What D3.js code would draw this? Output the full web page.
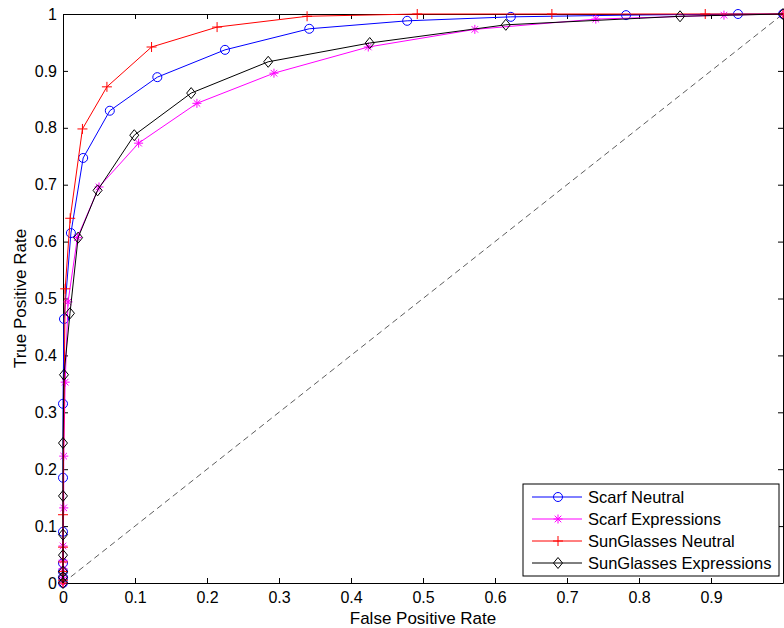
<!DOCTYPE html>
<html>
<head>
<meta charset="utf-8">
<script src="https://cdn.jsdelivr.net/npm/d3@7"></script>
<style>
  body { margin: 0; background: #fff; }
  svg { display: block; font-family: "Liberation Sans", Arial, sans-serif; }
  .axis text { font-size: 16px; fill: #000; }
  .axis path, .axis line { stroke: #000; }
</style>
</head>
<body>
<div id="chart"></div>
<script>
// Data
const seriesNames = ['Scarf Neutral', 'Scarf Expressions', 'SunGlasses Neutral', 'SunGlasses Expressions'];
const seriesColors = ['#0000ff', '#ff00ff', '#ff0000', '#000000'];
const seriesMarkers = ['circle', 'star', 'plus', 'diamond'];

const scarfNeutralFpr = [0, 0, 0, 0, 0, 0, 0, 0.0014, 0.011, 0.028, 0.065, 0.131, 0.225, 0.342, 0.478, 0.622, 0.782, 0.9375, 1];
const scarfNeutralTpr = [0, 0.01, 0.02, 0.035, 0.09, 0.185, 0.315, 0.464, 0.615, 0.747, 0.83, 0.889, 0.937, 0.974, 0.988, 0.995, 0.998, 1, 1];

const scarfExprFpr = [0, 0, 0, 0, 0, 0.001, 0.001, 0.003, 0.007, 0.02, 0.05, 0.105, 0.186, 0.293, 0.424, 0.572, 0.74, 0.918, 1];
const scarfExprTpr = [0, 0.01, 0.025, 0.04, 0.065, 0.132, 0.223, 0.353, 0.494, 0.607, 0.696, 0.773, 0.843, 0.896, 0.942, 0.973, 0.991, 0.998, 1];

const sunNeutralFpr = [0, 0, 0, 0, 0, 0, 0.003, 0.01, 0.027, 0.061, 0.123, 0.214, 0.339, 0.492, 0.679, 0.892, 1];
const sunNeutralTpr = [0, 0.005, 0.02, 0.037, 0.063, 0.12, 0.517, 0.641, 0.798, 0.872, 0.942, 0.977, 0.996, 1, 1, 1, 1];

const sunExprFpr = [0, 0, 0, 0, 0, 0, 0, 0.0014, 0.0097, 0.021, 0.048, 0.099, 0.178, 0.285, 0.426, 0.615, 0.857, 1];
const sunExprTpr = [0, 0.01, 0.02, 0.049, 0.085, 0.153, 0.246, 0.366, 0.474, 0.607, 0.69, 0.787, 0.861, 0.916, 0.949, 0.981, 0.996, 1];

const xTicks = [0, 0.1, 0.2, 0.3, 0.4, 0.5, 0.6, 0.7, 0.8, 0.9, 1];
const yTicks = [0, 0.1, 0.2, 0.3, 0.4, 0.5, 0.6, 0.7, 0.8, 0.9, 1];

const fprs = [scarfNeutralFpr, scarfExprFpr, sunNeutralFpr, sunExprFpr];
const tprs = [scarfNeutralTpr, scarfExprTpr, sunNeutralTpr, sunExprTpr];

const series = seriesNames.map((name, i) => ({
    name: name,
    color: seriesColors[i],
    marker: seriesMarkers[i],
    points: fprs[i].map((x, j) => ({ x: x, y: tprs[i][j] }))
}));

// Margin convention
const W = 784, H = 628;
const margin = { top: 14, right: 1, bottom: 45, left: 63 };
const width = W - margin.left - margin.right;
const height = H - margin.top - margin.bottom;

const svg = d3.select('#chart').append('svg')
    .attr('width', W)
    .attr('height', H);

svg.append('rect').attr('width', W).attr('height', H).attr('fill', '#fff');

const g = svg.append('g')
    .attr('transform', `translate(${margin.left},${margin.top})`);

// Scales
const x = d3.scaleLinear().domain([0, 1]).range([0, width]);
const y = d3.scaleLinear().domain([0, 1]).range([height, 0]);

const fmt = d => d === 0 ? '0' : d === 1 ? '1' : d3.format('.1f')(d);

// Axes (ticks point inward, box on)
g.append('g')
    .attr('class', 'axis')
    .attr('transform', `translate(0,${height})`)
    .call(d3.axisBottom(x).tickValues(xTicks).tickFormat(d => d === 1 ? '' : fmt(d))
        .tickSizeInner(-5).tickSizeOuter(0).tickPadding(9));

g.append('g')
    .attr('class', 'axis')
    .call(d3.axisLeft(y).tickValues(yTicks).tickFormat(fmt)
        .tickSizeInner(-5).tickSizeOuter(0).tickPadding(6));

g.append('g')
    .attr('class', 'axis')
    .call(d3.axisTop(x).tickValues(xTicks).tickFormat('')
        .tickSizeInner(-5).tickSizeOuter(0));

g.append('g')
    .attr('class', 'axis')
    .attr('transform', `translate(${width},0)`)
    .call(d3.axisRight(y).tickValues(yTicks).tickFormat('')
        .tickSizeInner(-5).tickSizeOuter(0));

// Axis labels
svg.append('text')
    .attr('x', margin.left + width / 2)
    .attr('y', 624)
    .attr('text-anchor', 'middle')
    .attr('font-size', 17)
    .text('False Positive Rate');

svg.append('text')
    .attr('transform', `translate(26,${margin.top + height / 2}) rotate(-90)`)
    .attr('text-anchor', 'middle')
    .attr('font-size', 17)
    .text('True Positive Rate');

// Chance diagonal
g.append('line')
    .attr('x1', x(0)).attr('y1', y(0))
    .attr('x2', x(1)).attr('y2', y(1))
    .attr('stroke', '#333')
    .attr('stroke-width', 0.8)
    .attr('stroke-dasharray', '6,4');

// Marker drawing
function drawMarker(sel, type, color) {
    if (type === 'circle') {
        sel.append('circle').attr('r', 4.5)
            .attr('fill', 'none').attr('stroke', color);
    } else if (type === 'plus') {
        sel.append('path').attr('d', 'M-5,0H5M0,-5V5')
            .attr('stroke', color).attr('fill', 'none');
    } else if (type === 'star') {
        sel.append('path').attr('d', 'M-4.5,0H4.5M0,-4.5V4.5M-3.3,-3.3L3.3,3.3M-3.3,3.3L3.3,-3.3')
            .attr('stroke', color).attr('fill', 'none');
    } else if (type === 'diamond') {
        sel.append('path').attr('d', 'M0,-5.5L4.5,0L0,5.5L-4.5,0Z')
            .attr('stroke', color).attr('fill', 'none');
    }
}

const line = d3.line().x(d => x(d.x)).y(d => y(d.y));

series.forEach(s => {
    const sg = g.append('g');
    sg.append('path')
        .datum(s.points)
        .attr('d', line)
        .attr('fill', 'none')
        .attr('stroke', s.color)
        .attr('stroke-width', 1);

    sg.selectAll('.marker')
        .data(s.points)
        .enter()
        .append('g')
        .attr('class', 'marker')
        .attr('transform', d => `translate(${x(d.x)},${y(d.y)})`)
        .each(function () { drawMarker(d3.select(this), s.marker, s.color); });
});

// Legend
const legend = svg.append('g').attr('transform', 'translate(523,484)');
legend.append('rect')
    .attr('width', 256).attr('height', 92)
    .attr('fill', '#fff').attr('stroke', '#000');

series.forEach((s, i) => {
    const row = legend.append('g').attr('transform', `translate(0,${13 + i * 22})`);
    row.append('line')
        .attr('x1', 9).attr('x2', 59)
        .attr('stroke', s.color);
    drawMarker(row.append('g').attr('transform', 'translate(35,0)'), s.marker, s.color);
    row.append('text')
        .attr('x', 65).attr('dy', '0.35em')
        .attr('font-size', 16.5)
        .text(s.name);
});
</script>
</body>
</html>
